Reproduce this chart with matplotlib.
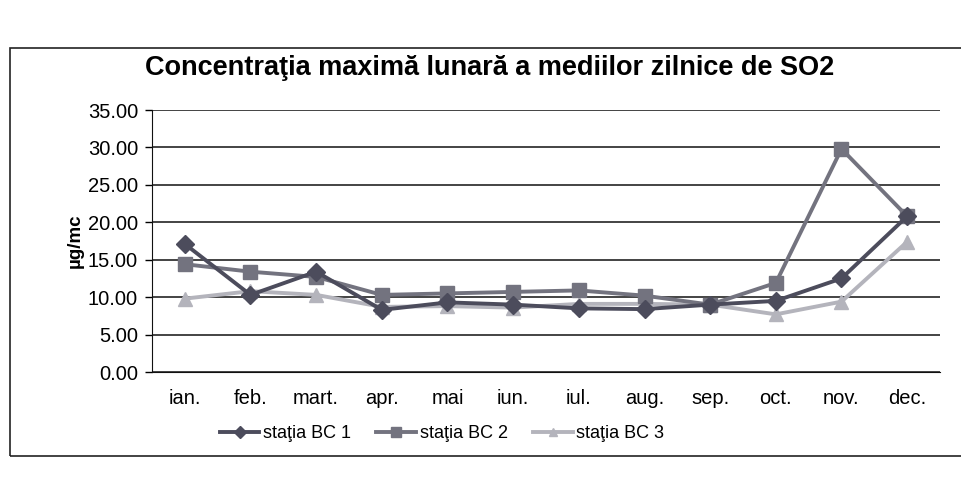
import matplotlib
matplotlib.use("Agg")
import matplotlib.pyplot as plt
from matplotlib.patches import Rectangle
from matplotlib.lines import Line2D

plt.rcParams['font.family'] = ['Liberation Sans', 'DejaVu Sans']

months = ["ian.", "feb.", "mart.", "apr.", "mai", "iun.", "iul.", "aug.", "sep.", "oct.", "nov.", "dec."]
bc1 = [17.1, 10.3, 13.4, 8.3, 9.3, 9.0, 8.5, 8.4, 9.0, 9.5, 12.5, 20.8]
bc2 = [14.4, 13.4, 12.7, 10.3, 10.5, 10.7, 10.9, 10.2, 9.0, 11.9, 29.8, 20.8]
bc3 = [9.8, 10.8, 10.3, 8.7, 8.8, 8.6, 9.1, 9.1, 9.0, 7.7, 9.4, 17.4]
series_names = ["staţia BC 1", "staţia BC 2", "staţia BC 3"]
yticks = [0, 5, 10, 15, 20, 25, 30, 35]

W, H = 961, 488
fig = plt.figure(figsize=(W / 100, H / 100), dpi=100)

# outer chart frame
fig.patches.append(Rectangle((10 / W, 1 - 456 / H), 1.2, (456 - 48) / H,
                             transform=fig.transFigure, fill=False,
                             edgecolor="#222222", linewidth=1.2))

ax = fig.add_axes([152 / W, 1 - 372 / H, (940 - 152) / W, (372 - 110) / H])
x = list(range(len(months)))

c1, c2, c3 = "#4c4c5c", "#73737f", "#b4b4bc"
ax.plot(x, bc1, color=c1, lw=2.8, marker="D", ms=9, mec=c1, mfc=c1, zorder=5)
ax.plot(x, bc2, color=c2, lw=2.8, marker="s", ms=10.5, mec=c2, mfc=c2, zorder=4)
ax.plot(x, bc3, color=c3, lw=2.8, marker="^", ms=10, mec=c3, mfc=c3, zorder=3)

ax.set_ylim(0, 35)
ax.set_xlim(-0.5, len(months) - 0.5)
ax.set_yticks(yticks)
ax.set_yticklabels([f"{v:.2f}" for v in yticks], fontsize=14.5)
ax.yaxis.grid(True, color="#111111", lw=1.1)
ax.set_axisbelow(True)
ax.set_xticks(x)
ax.set_xticklabels(months, fontsize=14.5)
ax.tick_params(axis="x", length=0, pad=12)
ax.tick_params(axis="y", length=5, width=1, direction="out", pad=5)
for s in ["top", "right"]:
    ax.spines[s].set_visible(False)
ax.spines["left"].set_color("#111111")
ax.spines["bottom"].set_color("#111111")
ax.set_ylabel("µg/mc", fontsize=13.5, fontweight="bold", labelpad=3)

fig.text(490 / W, 1 - 68 / H, "Concentraţia maximă lunară a mediilor zilnice de SO2",
         ha="center", va="center", fontsize=19.5, fontweight="bold")

handles = [Line2D([], [], color=c1, lw=2.8, marker="D", ms=6),
           Line2D([], [], color=c2, lw=2.8, marker="s", ms=7),
           Line2D([], [], color=c3, lw=2.8, marker="^", ms=6)]
fig.legend(handles, series_names, loc="center", bbox_to_anchor=(442 / W, 1 - 434 / H),
           ncol=3, frameon=False, fontsize=13, handlelength=2.2, columnspacing=1.4,
           handletextpad=0.2)

fig.savefig("out.png", dpi=100)
